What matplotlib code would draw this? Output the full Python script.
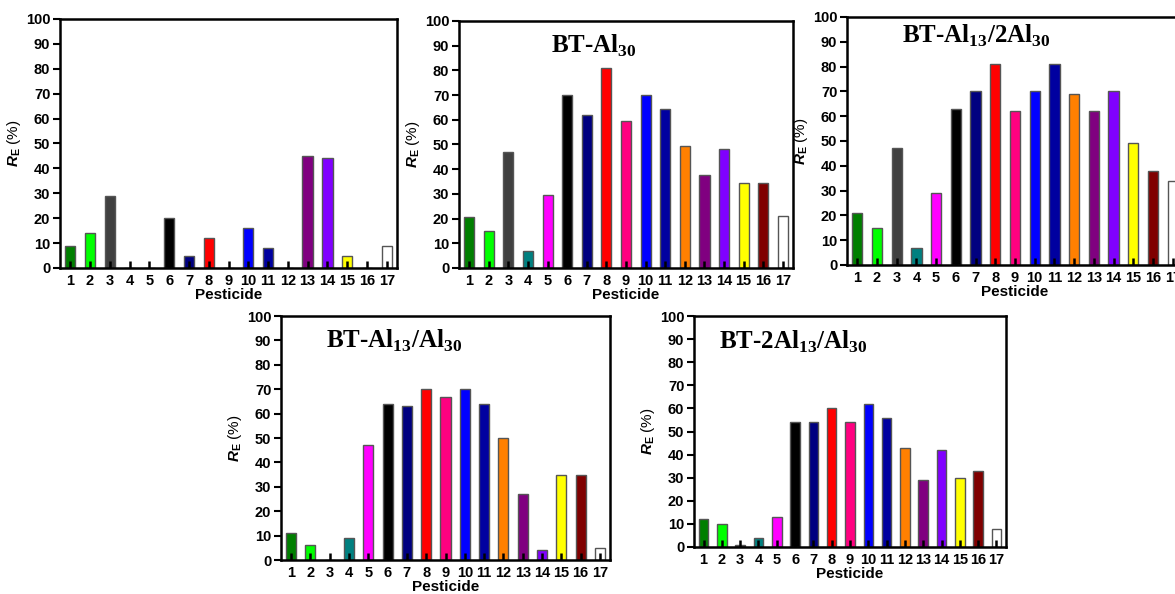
import numpy as np
import matplotlib
matplotlib.use('Agg')
import matplotlib.pyplot as plt

plt.rcParams.update({
    "font.family": "Liberation Sans",
    "font.weight": "bold",
    "mathtext.fontset": "custom",
    "mathtext.it": "Liberation Sans:italic",
    "mathtext.rm": "Liberation Sans",
    "mathtext.bf": "Liberation Serif:bold",
})

pesticides = list(range(1, 18))
bar_colors = ['#007f00', '#00ff00', '#404040', '#008080', '#ff00ff', '#000000',
              '#000080', '#ff0000', '#ff0080', '#0000ff', '#0000a0', '#ff8000',
              '#800080', '#8000ff', '#ffff00', '#800000', '#ffffff']

re_bt = [9, 14, 29, 0, 0, 20, 5, 12, 0, 16, 8, 0, 45, 44, 5, 0, 9]
re_al30 = [20.7, 15, 46.8, 7, 29.5, 70, 62, 81, 59.5, 70, 64.5, 49.2, 37.8, 48.3, 34.5, 34.5, 21]
re_al13_2al30 = [21, 15, 47, 7, 29, 63, 70, 81, 62, 70, 81, 69, 62, 70, 49, 38, 34]
re_al13_al30 = [11, 6, 0, 9, 47, 64, 63, 70, 67, 70, 64, 50, 27, 4, 35, 35, 5]
re_2al13_al30 = [12, 10, 1, 4, 13, 54, 54, 60, 54, 62, 56, 43, 29, 42, 30, 33, 8]

W, H = 1175, 594
fig = plt.figure(figsize=(W / 100, H / 100), dpi=100)

# (values, title, left, top, right, bottom in px, title x, title y)
panels = [
    (re_bt, None, 60, 19, 397, 268, 0, 0),
    (re_al30, r'BT-Al$_{\mathbf{30}}$', 459, 21, 793, 268, 0.275, 0.87),
    (re_al13_2al30, r'BT-Al$_{\mathbf{13}}$/2Al$_{\mathbf{30}}$', 847, 17, 1183, 265, 0.165, 0.895),
    (re_al13_al30, r'BT-Al$_{\mathbf{13}}$/Al$_{\mathbf{30}}$', 281, 316, 610, 560, 0.137, 0.87),
    (re_2al13_al30, r'BT-2Al$_{\mathbf{13}}$/Al$_{\mathbf{30}}$', 694, 316, 1006, 547, 0.08, 0.86),
]

for vals, title, l, t, r, b, tx, ty in panels:
    ax = fig.add_axes([l / W, 1 - b / H, (r - l) / W, (b - t) / H])
    ax.bar(pesticides, vals, width=0.52, color=bar_colors, edgecolor='#555555',
           linewidth=1.0, zorder=1)
    ax.set_xlim(0.48, 17.52)
    ax.set_ylim(0, 100)
    ax.set_xticks(pesticides)
    ax.set_yticks(np.arange(0, 101, 10))
    ax.tick_params(axis='x', direction='in', length=5, width=1.8, pad=4,
                   labelsize=10.5, color='black')
    ax.tick_params(axis='y', direction='out', length=5, width=1.5, pad=2,
                   labelsize=10.5)
    for lab in ax.get_xticklabels() + ax.get_yticklabels():
        lab.set_fontweight('bold')
    for s in ax.spines.values():
        s.set_linewidth(1.8)
        s.set_zorder(3)
    ax.set_axisbelow(False)
    ax.set_xlabel('Pesticide', fontsize=11, fontweight='bold', labelpad=0)
    ax.set_ylabel(r'$R_{\mathrm{E}}$ (%)', fontsize=11, fontweight='normal', labelpad=2)
    if title:
        ax.text(tx, ty, title, transform=ax.transAxes, fontsize=18,
                family='Liberation Serif', fontweight='bold', ha='left', va='baseline')

fig.savefig('out.png', dpi=100)
